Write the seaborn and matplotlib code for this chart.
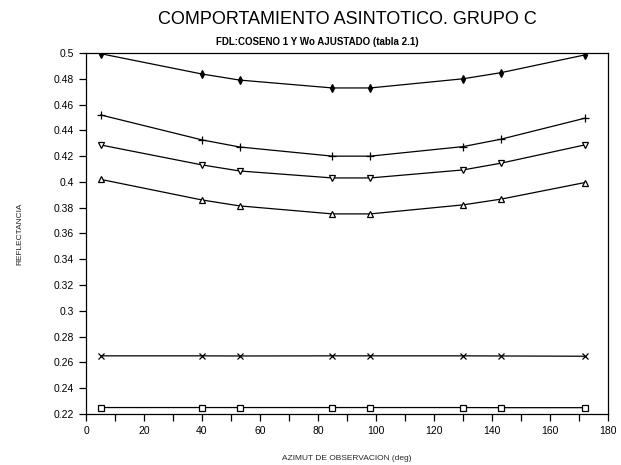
import matplotlib
matplotlib.use("Agg")
import matplotlib.pyplot as plt
import seaborn as sns
import pandas as pd
from matplotlib.ticker import MultipleLocator, FuncFormatter

sns.set_theme(style="ticks")
plt.rcParams['font.family'] = ['Liberation Sans', 'DejaVu Sans']

azimut = [5, 40, 53, 85, 98, 130, 143, 172]
serie_1 = [0.4995, 0.4837, 0.4790, 0.4729, 0.4729, 0.4800, 0.4847, 0.4985]
serie_2 = [0.4520, 0.4326, 0.4271, 0.4200, 0.4200, 0.4274, 0.4331, 0.4494]
serie_3 = [0.4287, 0.4132, 0.4085, 0.4031, 0.4031, 0.4093, 0.4145, 0.4287]
serie_4 = [0.4020, 0.3860, 0.3814, 0.3752, 0.3752, 0.3822, 0.3866, 0.3995]
serie_5 = [0.2651, 0.2651, 0.2650, 0.2651, 0.2651, 0.2651, 0.2650, 0.2648]
serie_6 = [0.2250, 0.2250, 0.2250, 0.2250, 0.2250, 0.2250, 0.2249, 0.2249]

series = [serie_1, serie_2, serie_3, serie_4, serie_5, serie_6]
markers = ['d', '+', 'v', '^', 'x', 's']
sizes = [4, 5.5, 4.5, 4.5, 5, 4.5]
filled = [True, False, False, False, False, False]

fig = plt.figure(figsize=(6.21, 4.65), dpi=100)
ax = fig.add_axes([0.1385, 0.1097, 0.8405, 0.7763])

for vals, mk, ms, fl in zip(series, markers, sizes, filled):
    df = pd.DataFrame({'x': azimut, 'y': vals})
    kw = dict(markerfacecolor='black' if fl else 'white', markeredgecolor='black')
    if mk in ['+', 'x']:
        kw = dict(markeredgecolor='black')
    sns.lineplot(data=df, x='x', y='y', ax=ax, color='black', linewidth=0.9,
                 marker=mk, markersize=ms, markeredgewidth=0.9, **kw)

ax.set_xlim(0, 180)
ax.set_ylim(0.22, 0.5)
ax.xaxis.set_major_locator(MultipleLocator(20))
ax.xaxis.set_minor_locator(MultipleLocator(10))
ax.yaxis.set_major_locator(MultipleLocator(0.02))
ax.yaxis.set_major_formatter(FuncFormatter(lambda v, p: f"{round(v, 2):g}"))
ax.tick_params(axis='both', which='major', labelsize=7.5, length=5, width=0.9, color='black', labelcolor='black')
ax.tick_params(axis='x', which='minor', length=5, width=0.9, color='black')
for s in ax.spines.values():
    s.set_color('black')
    s.set_linewidth(0.9)

ax.set_xlabel("AZIMUT DE OBSERVACION (deg)", fontsize=6, labelpad=14)
ax.set_ylabel("REFLECTANCIA", fontsize=6, labelpad=22)
fig.text(0.559, 0.958, "COMPORTAMIENTO ASINTOTICO. GRUPO C", ha='center', va='center', fontsize=13, color='black')
fig.text(0.511, 0.91, "FDL:COSENO 1 Y Wo AJUSTADO (tabla 2.1)", ha='center', va='center', fontsize=7, fontweight='bold', color='black')

fig.savefig("out.png", dpi=100)
